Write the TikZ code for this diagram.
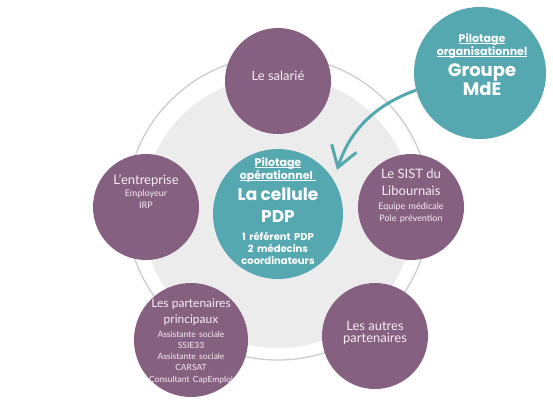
\documentclass[tikz,border=0pt]{standalone}
\usepackage{fontspec}
\setmainfont{Lato}
\newfontfamily\headfont{Poppins}
\usetikzlibrary{arrows.meta}
\definecolor{plum}{RGB}{134,96,128}
\definecolor{tealc}{RGB}{86,168,176}
\definecolor{ringgrey}{RGB}{205,205,205}
\definecolor{discgrey}{RGB}{236,236,236}
\definecolor{softwhite}{RGB}{246,238,244}
\newsavebox{\ulbox}
\newcommand{\ulx}[1]{\leavevmode\sbox{\ulbox}{#1}\rlap{\rule[-1.6pt]{\wd\ulbox}{0.8pt}}\usebox{\ulbox}}
\begin{document}
\begin{tikzpicture}[x=1pt,y=-1pt,
  member/.style={circle,fill=plum,minimum size=106pt,inner sep=0pt},
  pilot/.style={circle,fill=tealc,inner sep=0pt},
  mtext/.style={text=softwhite,align=center,text width=140pt,anchor=base,inner sep=0pt},
  ptext/.style={text=white,align=center,text width=140pt,anchor=base,inner sep=0pt,font=\headfont\bfseries},
  link/.style={draw=tealc,line width=3pt,-{Straight Barb[length=20pt,width=26pt]}}]
\useasboundingbox (0,0) rectangle (553,415);
\fill[white] (0,0) rectangle (553,415);
\draw[ringgrey,line width=1.3pt] (278,208) circle (152pt);
\fill[discgrey] (278,212) circle (136pt);

\node[member] (sal) at (278,81) {};
\node[member] (ent) at (146,207) {};
\node[member] (sist) at (411,207) {};
\node[member,minimum size=114pt] (part) at (191,340) {};
\node[member] (aut) at (375,336) {};
\node[pilot,minimum size=130pt] (pdp) at (278,214) {};
\node[pilot,minimum size=132pt] (mde) at (480,73) {};

\coordinate (tip) at (337,170);
\draw[link] (mde.195) .. controls (375,105) and (350,130) .. (tip);

\node[mtext] (salt) at (278,80) {\fontsize{13}{16}\selectfont Le salarié};
\node[mtext] (entt) at (146,184) {\fontsize{13}{16}\selectfont L’entreprise\par
  \fontsize{9}{12.5}\selectfont Employeur\\IRP};
\node[mtext] (sistt) at (411,178) {\fontsize{13}{17}\selectfont Le SIST du\\Libournais\par
  \fontsize{9}{14}\selectfont Equipe médicale\par
  \fontsize{9}{12.5}\selectfont Pole prévention};
\begin{scope}
\clip (191,340) circle (57pt);
\node[mtext] (partt) at (191,307) {\fontsize{12}{16}\selectfont Les partenaires\\principaux\par
  \fontsize{8.5}{14}\selectfont Assistante sociale\par
  \fontsize{8.5}{11.2}\selectfont SSIE33\\Assistante sociale\\CARSAT\\Consultant CapEmploi};
\end{scope}
\node[mtext] (autt) at (375,330) {\fontsize{13}{17.5}\selectfont Les autres\\partenaires};

\node[ptext] (pdpt) at (278,166) {\fontsize{11}{13.5}\selectfont\ulx{Pilotage}\\\ulx{opérationnel\ }\par
  \fontsize{17}{21}\selectfont La cellule\par
  \fontsize{17}{22}\selectfont PDP\par
  \fontsize{10}{18}\selectfont 1 référent PDP\par
  \fontsize{10}{12}\selectfont 2 médecins\\coordinateurs};
\node[ptext] (mdet) at (482,42) {\fontsize{11}{13.5}\selectfont\ulx{Pilotage}\\\ulx{organisationnel}\par
  \fontsize{18}{21}\selectfont Groupe\par
  \fontsize{18}{24}\selectfont MdE};
\end{tikzpicture}
\end{document}
